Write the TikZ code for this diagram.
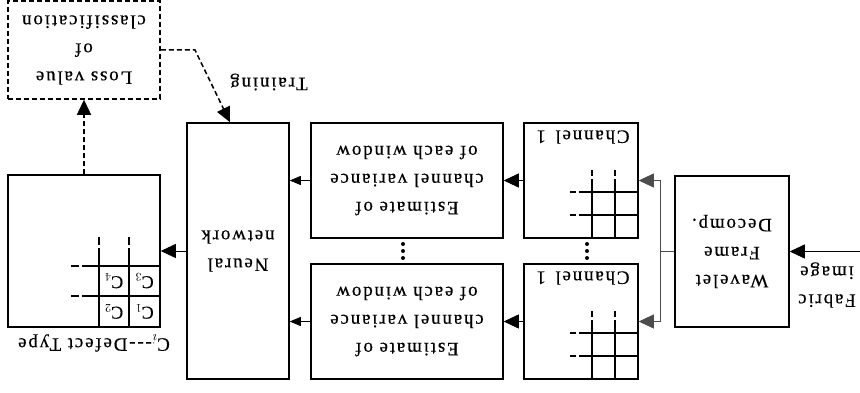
\documentclass[tikz,border=0pt]{standalone}
\usepackage{fontspec}
\setmainfont[LetterSpace=9.5,FakeBold=0.4]{Liberation Serif}
\usetikzlibrary{arrows.meta,calc}
\tikzset{
  box/.style={draw, line width=1.5pt, inner sep=0pt, align=center},
  conn/.style={line width=0.7pt},
  thinconn/.style={line width=0.6pt, draw=black!70},
  arr/.style={-{Triangle[length=15pt,width=14pt]}},
  sarr/.style={-{Triangle[length=11pt,width=9pt]}},
  darr/.style={-{Triangle[length=15pt,width=14pt]}},
  dline/.style={line width=1.5pt, dash pattern=on 5pt off 3pt},
  gline/.style={line width=1.3pt},
  cell/.style={font=\fontsize{18}{18}\selectfont, inner sep=0pt},
  lbl/.style={inner sep=0pt, align=center}
}
\begin{document}
\begin{tikzpicture}[x=1pt, y=1pt, font=\fontsize{19}{28}\selectfont]
\useasboundingbox (0,0) rectangle (860,392);
\begin{scope}[shift={(860,392)}, rotate=180, transform shape]
  % boxes
  \node[box, minimum width=114, minimum height=151] (wav) at (128,251.5) {Wavelet\\Frame\\Decomp.};
  \node[box, minimum width=114, minimum height=115] (chL) at (279,180.5) {};
  \node[box, minimum width=114, minimum height=115] (chU) at (279,321.5) {};
  \node[box, minimum width=192, minimum height=115] (estL) at (453,180.5) {Estimate of\\channel variance\\of each window};
  \node[box, minimum width=192, minimum height=115] (estU) at (453,321.5) {Estimate of\\channel variance\\of each window};
  \node[box, minimum width=102, minimum height=256] (nn) at (622,251) {Neural\\network};
  \node[box, minimum width=152, minimum height=152] (defect) at (776,251) {};
  \node[box, dline, minimum width=152, minimum height=98] (loss) at (776,50) {Loss value\\of\\classification};

  % labels
  \node[lbl, anchor=east] (fab) at (62,285) {Fabric\\image};
  \node[lbl] (chLt) at (277,137) {Channel\enspace 1};
  \node[lbl] (chUt) at (277,278) {Channel\enspace 1};
  \node[lbl] (train) at (591,82) {Training};
  \node[lbl] (dtype) at (766,343) {C$_i$-{}-{}-Defect Type};

  % channel grids
  \foreach \yo in {0,141} {
    \draw[gline] (245,238+\yo) -- (245,192+\yo-13);
    \draw[gline] (268,238+\yo) -- (268,192+\yo-13);
    \draw[gline] (245,192+\yo-16) -- (245,192+\yo-22);
    \draw[gline] (268,192+\yo-16) -- (268,192+\yo-22);
    \draw[gline] (222,215+\yo) -- (268+13,215+\yo);
    \draw[gline] (222,192+\yo) -- (268+13,192+\yo);
    \draw[gline] (268+16,215+\yo) -- (268+22,215+\yo);
    \draw[gline] (268+16,192+\yo) -- (268+22,192+\yo);
  }
  % defect grid
  \draw[gline] (731,327) -- (731,266-18);
  \draw[gline] (761,327) -- (761,266-18);
  \draw[gline] (731,266-21) -- (731,266-29);
  \draw[gline] (761,266-21) -- (761,266-29);
  \draw[gline] (700,296) -- (761+17,296);
  \draw[gline] (700,266) -- (761+17,266);
  \draw[gline] (761+20,296) -- (761+28,296);
  \draw[gline] (761+20,266) -- (761+28,266);
  \node[cell] (c1) at (715.5,311.5) {C$_1$};
  \node[cell] (c2) at (746,311.5) {C$_2$};
  \node[cell] (c3) at (715.5,281) {C$_3$};
  \node[cell] (c4) at (746,281) {C$_4$};

  % dots
  \foreach \yy in {244,251,258} {
    \fill (457,\yy) circle (2);
    \fill (273,\yy) circle (2);
  }

  % connectors
  \coordinate (in) at (0,251.5);
  \draw[conn, arr] (in) -- (wav.west);
  \coordinate (split) at (200,251.5);
  \draw[thinconn] (wav.east) -- (split);
  \draw[thinconn, arr] (split) |- (chL.west);
  \draw[thinconn, arr] (split) |- (chU.west);
  \draw[conn, arr] (chL.east) -- (estL.west);
  \draw[conn, arr] (chU.east) -- (estU.west);
  \draw[conn, sarr] (estL.east) -- (estL.east -| nn.west);
  \draw[conn, sarr] (estU.east) -- (estU.east -| nn.west);
  \draw[conn, arr] (nn) -- (defect);
  \draw[dline, darr] (defect.south) -- (loss.north);
  \coordinate (tb) at (665,50);
  \draw[dline, darr] (loss.west) -- (tb) -- ($(nn.south)+(8,0)$);
\end{scope}
\end{tikzpicture}
\end{document}
